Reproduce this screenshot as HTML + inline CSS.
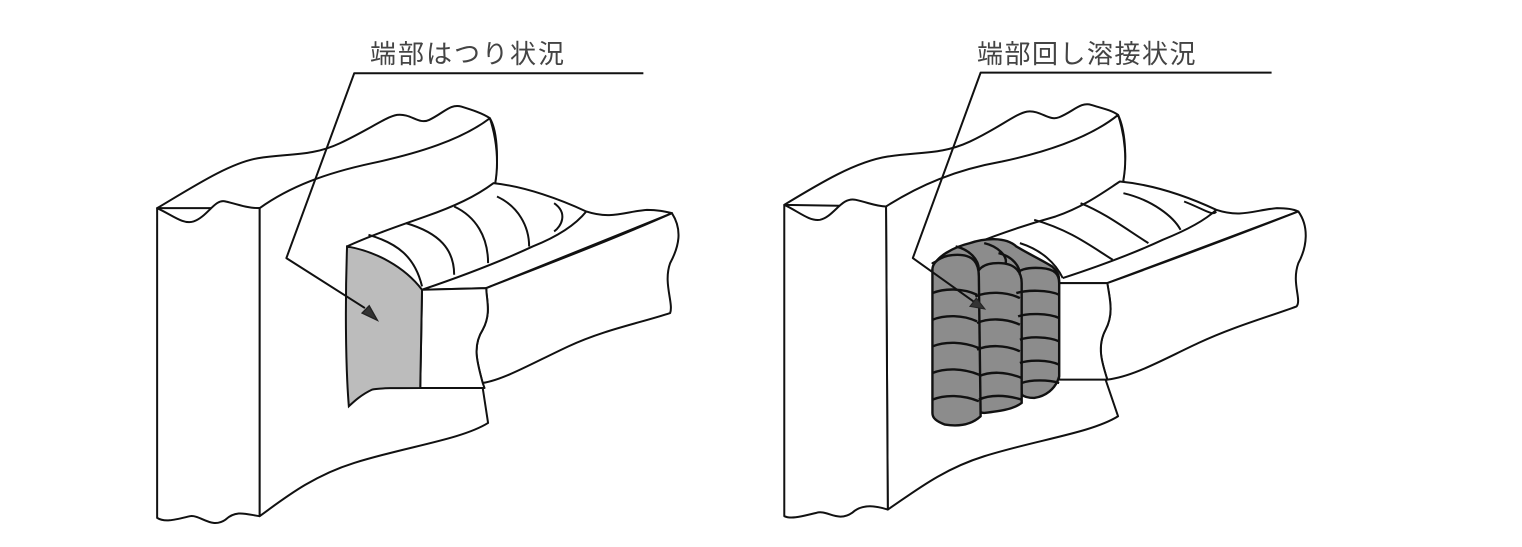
<!DOCTYPE html>
<html><head><meta charset="utf-8"><style>
html,body{margin:0;padding:0;background:#fff;}
svg{display:block}
text{font-family:"Liberation Sans","Noto Sans CJK JP",sans-serif;fill:#444;}
.s{fill:none;stroke:#111;stroke-width:2;vector-effect:non-scaling-stroke;stroke-linejoin:round}
.r path{fill:none;stroke:#111;stroke-width:2.4;vector-effect:non-scaling-stroke;stroke-linejoin:round}
.w{fill:#fff;stroke:#111;stroke-width:2;vector-effect:non-scaling-stroke;stroke-linejoin:round}
.g{fill:#bcbcbc;stroke:#111;stroke-width:2;vector-effect:non-scaling-stroke}
.d{fill:#8c8c8c;stroke:#111;stroke-width:2.4;vector-effect:non-scaling-stroke;stroke-linejoin:round}
</style></head><body>
<svg width="1522" height="547" viewBox="0 0 1522 547" xmlns="http://www.w3.org/2000/svg">
<rect width="1522" height="547" fill="#fff"/>
<text x="370" y="63" font-size="26" letter-spacing="2">端部はつり状況</text>
<text x="977" y="63" font-size="26" letter-spacing="1.5">端部回し溶接状況</text>

<!-- LEFT FIGURE -->
<g transform="translate(140,30) scale(0.357,0.333)">
  <path class="w" d="M48,535 C150,470 250,400 330,385 C420,370 480,380 560,340 C640,300 690,260 720,255 C760,250 780,285 810,270 C850,250 870,220 900,230 C930,240 960,250 980,265 C1000,300 1005,380 995,460 L995,520 L335,535 Z"/>
  <path class="w" d="M335,535 C420,470 520,430 650,400 C780,370 900,330 980,265 C1000,330 1005,400 995,460 L960,1075 L975,1180 C900,1230 750,1250 600,1300 C480,1340 400,1410 335,1460 Z"/>
  <path class="w" d="M48,535 C90,555 120,585 150,575 C190,560 210,505 240,515 C280,525 300,535 335,535 L335,1460 C300,1455 270,1440 240,1470 C200,1500 170,1455 140,1460 C100,1470 70,1480 48,1465 Z"/>
  <path class="w" d="M580,650 C640,620 720,590 800,560 C880,530 940,500 990,460 C1080,470 1180,510 1250,545 C1320,570 1360,545 1420,540 C1450,540 1470,545 1490,550 L970,775 L790,780 Z"/>
  <path class="w" d="M970,775 C1100,720 1300,640 1490,550 C1520,600 1510,650 1485,700 C1465,760 1495,820 1485,850 C1400,880 1300,900 1200,950 C1100,1000 1020,1050 960,1060 C945,1000 930,950 960,900 C985,850 970,810 970,775 Z"/>
  <path class="w" d="M790,780 L970,775 C970,810 985,850 960,900 C930,950 945,1000 960,1060 L965,1075 L785,1075 Z"/>
  <path class="s" d="M790,780 C900,740 1000,700 1100,650 C1170,620 1220,585 1250,545"/>
  <path class="s" d="M640,615 C720,640 770,680 790,770"/>
  <path class="s" d="M745,580 C840,610 880,660 880,735"/>
  <path class="s" d="M880,530 C940,560 975,620 975,700"/>
  <path class="s" d="M1000,500 C1060,530 1090,590 1090,650"/>
  <path class="s" d="M1160,520 C1200,550 1180,590 1160,605"/>
  <path class="g" d="M580,650 C660,665 740,710 790,780 L785,1075 C720,1075 670,1075 650,1080 C620,1095 600,1115 585,1130 C575,1000 575,800 580,650 Z"/>
  <path class="s" d="M1410,130 L600,130 L410,685 L630,835"/>
  <path d="M622,850 L642,828 L665,872 Z" fill="#333" stroke="#222" stroke-width="4"/>
</g>

<!-- RIGHT FIGURE -->
<g transform="translate(770,30) scale(0.357,0.333)">
  <path class="w" d="M40,525 C140,460 240,395 330,380 C420,365 480,375 560,335 C640,295 690,250 720,245 C760,240 780,275 810,262 C850,245 870,215 900,225 C930,235 955,240 975,255 C995,300 1000,380 990,450 L990,510 L325,530 Z"/>
  <path class="w" d="M325,530 C420,465 520,420 650,395 C780,365 900,320 975,255 C995,320 1000,390 990,450 L940,1050 L975,1160 C900,1210 750,1230 600,1280 C480,1320 400,1390 330,1440 Z"/>
  <path class="w" d="M40,525 C80,545 110,575 140,570 C180,560 200,500 240,510 C280,520 300,530 325,530 L330,1440 C300,1430 260,1420 230,1450 C190,1480 160,1440 130,1450 C90,1460 60,1470 40,1460 Z"/>
  <path class="w" d="M455,700 C560,640 700,590 800,560 C880,530 930,490 980,455 C1080,465 1180,505 1250,540 C1320,565 1360,540 1420,535 C1450,535 1470,540 1480,545 L945,760 L810,760 Z"/>
  <path class="w" d="M945,760 C1100,700 1300,620 1480,545 C1510,590 1505,650 1480,700 C1460,760 1490,810 1475,830 C1400,860 1300,890 1200,940 C1100,990 1020,1040 945,1050 C930,1000 915,950 940,900 C965,850 950,800 945,760 Z"/>
  <path class="w" d="M810,760 L945,760 C950,800 965,850 940,900 C915,950 930,1000 945,1050 L810,1050 Z"/>
  <path class="s" d="M820,745 C920,710 1020,670 1100,630 C1170,600 1220,570 1250,540"/>
  <path class="s" d="M700,640 C760,660 800,700 820,745"/>
  <path class="s" d="M740,570 C840,600 900,650 960,690"/>
  <path class="s" d="M870,520 C940,550 1000,600 1060,640"/>
  <path class="s" d="M990,490 C1070,510 1130,560 1150,600"/>
  <path class="s" d="M1160,515 C1220,540 1240,560 1250,545"/>
  <path class="d" d="M455,720 C460,680 520,650 560,640 C600,625 660,620 690,650 C720,670 760,690 790,710 C810,730 810,740 810,760 L700,760 Z"/>
  <path class="d" d="M690,740 C690,720 720,712 760,715 C800,718 810,735 810,760 L810,1040 C800,1080 770,1100 740,1105 C720,1105 710,1100 705,1095 Z"/>
  <path class="d" d="M575,760 C575,715 600,700 640,700 C690,700 705,730 705,760 L705,1120 C680,1140 640,1145 600,1150 C590,1150 585,1145 585,1140 Z"/>
  <path class="d" d="M455,720 C455,690 490,675 525,675 C570,675 585,700 585,740 L590,1160 C560,1190 520,1190 490,1185 C465,1175 455,1165 455,1150 Z"/>
  <g class="r">
    <path d="M455,790 C490,775 540,775 580,795"/><path d="M455,870 C490,855 540,855 580,875"/>
    <path d="M455,950 C490,935 540,935 585,955"/><path d="M455,1030 C490,1015 540,1015 585,1035"/>
    <path d="M455,1110 C490,1095 540,1095 585,1115"/>
    <path d="M575,800 C610,785 660,785 700,805"/><path d="M580,880 C610,865 660,865 700,885"/>
    <path d="M580,960 C610,945 660,945 700,965"/><path d="M585,1040 C615,1025 660,1025 705,1045"/>
    <path d="M585,1110 C615,1095 660,1095 705,1110"/>
    <path d="M690,790 C720,780 780,780 810,795"/><path d="M695,860 C720,850 780,850 810,865"/>
    <path d="M700,930 C725,920 780,920 810,935"/><path d="M700,1000 C725,990 780,990 810,1005"/>
    <path d="M705,1060 C730,1050 780,1050 810,1060"/>
    <path d="M520,650 C560,660 585,690 585,720"/><path d="M600,640 C640,650 665,680 660,700"/>
    <path d="M640,670 C680,680 700,710 700,735"/>
  </g>
  <path class="s" d="M1405,128 L590,128 L400,685 L570,815"/>
  <path d="M560,830 L578,805 L602,838 Z" fill="#333" stroke="#222" stroke-width="3"/>
</g>
</svg>
</body></html>
